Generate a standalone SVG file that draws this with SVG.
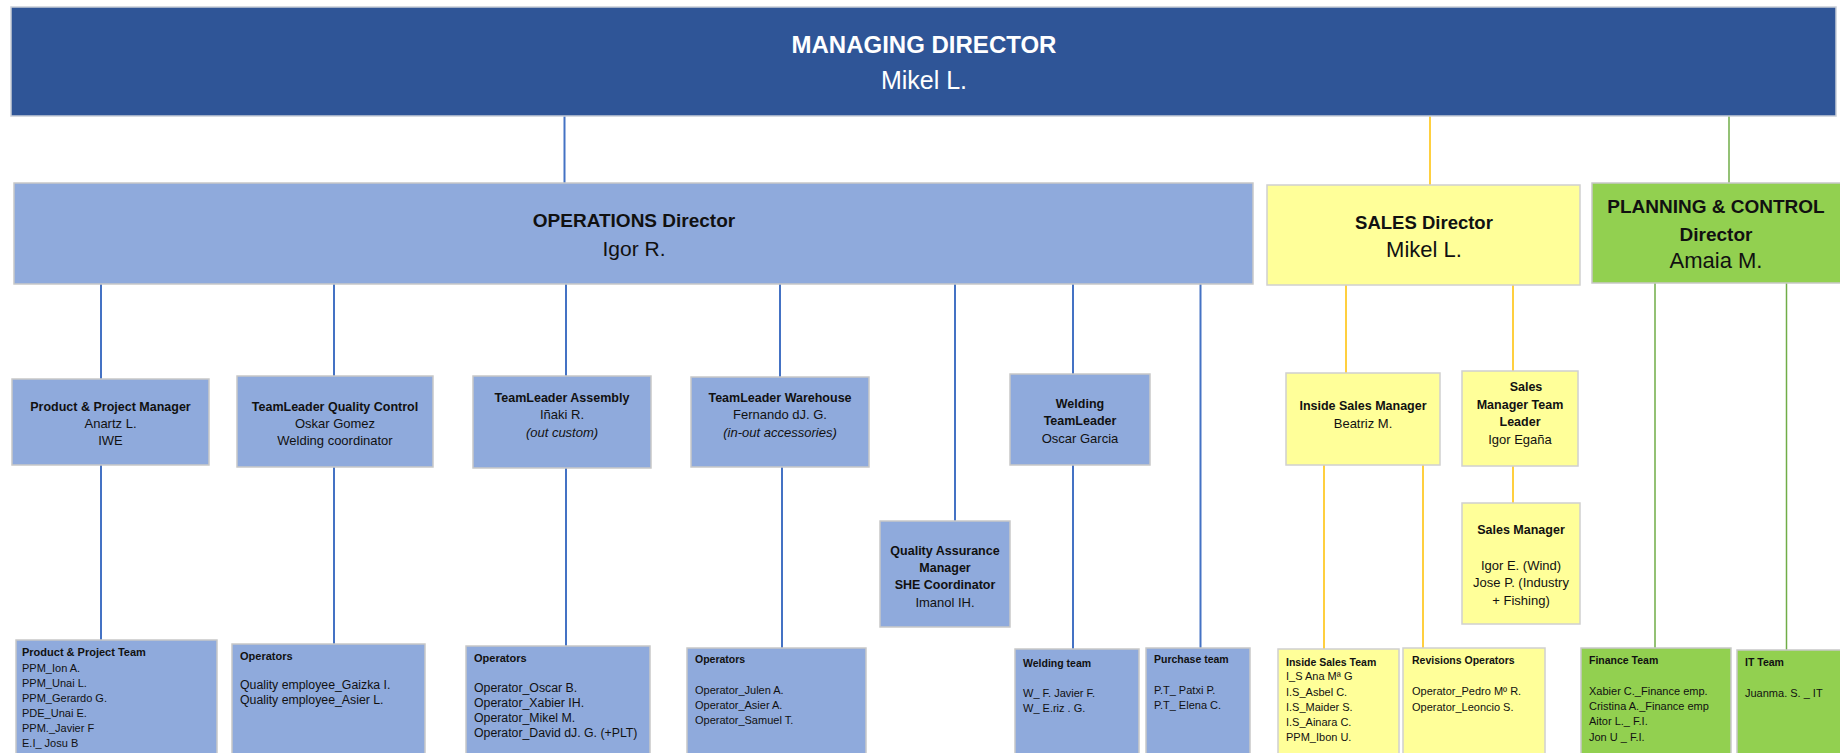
<svg xmlns="http://www.w3.org/2000/svg" width="1840" height="753" viewBox="0 0 1840 753">
<style>
text{font-family:"Liberation Sans",Arial,sans-serif;fill:#111}
.b{font-weight:bold}
.i{font-style:italic}
.c{text-anchor:middle}
.md{fill:#2F5597;stroke:#C9CED8;stroke-width:1.5}
.bl{fill:#8FAADC;stroke:#C8C8C8;stroke-width:1.5}
.ye{fill:#FFFF99;stroke:#D0D0D0;stroke-width:1.5}
.gr{fill:#92D050;stroke:#C8C8C8;stroke-width:1.5}
.l2 text{font-size:13px}
.l2 text.b{font-size:12.5px}
.l3 text{font-size:11px}
.l3 text.b{font-size:10.5px}
.l3.big text{font-size:12.3px}
.l3.big text.b{font-size:11px}
.cb{stroke:#4472C4;stroke-width:2;fill:none}
.cy{stroke:#FFC000;stroke-width:1.5;fill:none}
.cg{stroke:#70AD47;stroke-width:1.5;fill:none}
</style>
<rect width="1840" height="753" fill="#FFFFFF"/>
<g id="connectors">
<path class="cb" d="M564.5 116V183"/>
<path class="cy" d="M1430 116V185"/>
<path class="cg" d="M1729 116V183"/>
<path class="cb" d="M101 284V379M101 465V640"/>
<path class="cb" d="M334 284V376M334 467V644"/>
<path class="cb" d="M566 284V376M566 468V646"/>
<path class="cb" d="M780 284V377M782 467V648"/>
<path class="cb" d="M955 284V521"/>
<path class="cb" d="M1073 284V374M1073 465V649"/>
<path class="cb" d="M1200.5 284V648"/>
<path class="cy" d="M1346 285V373M1324 465V649M1423 465V648"/>
<path class="cy" d="M1513 285V371M1513 466V503"/>
<path class="cg" d="M1655 283V648M1786.5 283V650"/>
</g>
<g id="managing-director">
<rect class="md" x="11" y="7" width="1825" height="109"/>
<text class="b c" x="924" y="53" font-size="24" style="fill:#fff">MANAGING DIRECTOR</text>
<text class="c" x="924" y="89" font-size="25" style="fill:#fff">Mikel L.</text>
</g>
<g id="operations-director">
<rect class="bl" x="14" y="183" width="1239" height="101"/>
<text class="b c" x="634" y="227" font-size="19">OPERATIONS Director</text>
<text class="c" x="634" y="256" font-size="21">Igor R.</text>
</g>
<g id="sales-director">
<rect class="ye" x="1267" y="185" width="313" height="100"/>
<text class="b c" x="1424" y="229" font-size="18.5">SALES Director</text>
<text class="c" x="1424" y="257" font-size="22">Mikel L.</text>
</g>
<g id="planning-director">
<rect class="gr" x="1592" y="183" width="250" height="100"/>
<text class="b c" x="1716" y="213" font-size="19">PLANNING &amp; CONTROL</text>
<text class="b c" x="1716" y="241" font-size="19">Director</text>
<text class="c" x="1716" y="268" font-size="22">Amaia M.</text>
</g>
<g id="product-project-manager" class="l2">
<rect class="bl" x="12" y="379" width="197" height="86"/>
<text class="b c" x="110.5" y="411">Product &amp; Project Manager</text>
<text class="c" x="110.5" y="428">Anartz L.</text>
<text class="c" x="110.5" y="445">IWE</text>
</g>
<g id="teamleader-quality" class="l2">
<rect class="bl" x="237" y="376" width="196" height="91"/>
<text class="b c" x="335" y="411">TeamLeader Quality Control</text>
<text class="c" x="335" y="428">Oskar Gomez</text>
<text class="c" x="335" y="445">Welding coordinator</text>
</g>
<g id="teamleader-assembly" class="l2">
<rect class="bl" x="473" y="376" width="178" height="92"/>
<text class="b c" x="562" y="402">TeamLeader Assembly</text>
<text class="c" x="562" y="419">Iñaki R.</text>
<text class="c i" x="562" y="437">(out custom)</text>
</g>
<g id="teamleader-warehouse" class="l2">
<rect class="bl" x="691" y="377" width="178" height="90"/>
<text class="b c" x="780" y="402">TeamLeader Warehouse</text>
<text class="c" x="780" y="419">Fernando dJ. G.</text>
<text class="c i" x="780" y="437">(in-out accessories)</text>
</g>
<g id="quality-assurance" class="l2">
<rect class="bl" x="880" y="521" width="130" height="106"/>
<text class="b c" x="945" y="555">Quality Assurance</text>
<text class="b c" x="945" y="572">Manager</text>
<text class="b c" x="945" y="589">SHE Coordinator</text>
<text class="c" x="945" y="607">Imanol IH.</text>
</g>
<g id="welding-teamleader" class="l2">
<rect class="bl" x="1010" y="374" width="140" height="91"/>
<text class="b c" x="1080" y="408">Welding</text>
<text class="b c" x="1080" y="425">TeamLeader</text>
<text class="c" x="1080" y="443">Oscar Garcia</text>
</g>
<g id="inside-sales-manager" class="l2">
<rect class="ye" x="1286" y="373" width="154" height="92"/>
<text class="b c" x="1363" y="410">Inside Sales Manager</text>
<text class="c" x="1363" y="428">Beatriz M.</text>
</g>
<g id="sales-manager-team-leader" class="l2">
<rect class="ye" x="1462" y="371" width="116" height="95"/>
<text class="b c" x="1526" y="391">Sales</text>
<text class="b c" x="1520" y="409">Manager Team</text>
<text class="b c" x="1520" y="426">Leader</text>
<text class="c" x="1520" y="444">Igor Egaña</text>
</g>
<g id="sales-manager" class="l2">
<rect class="ye" x="1462" y="503" width="118" height="121"/>
<text class="b c" x="1521" y="534">Sales Manager</text>
<text class="c" x="1521" y="570">Igor E. (Wind)</text>
<text class="c" x="1521" y="587">Jose P. (Industry</text>
<text class="c" x="1521" y="605">+ Fishing)</text>
</g>
<g id="product-project-team" class="l3">
<rect class="bl" x="16" y="640" width="201" height="120"/>
<text class="b" x="22" y="656" style="font-size:11px">Product &amp; Project Team</text>
<text x="22" y="672">PPM_Ion A.</text>
<text x="22" y="687">PPM_Unai L.</text>
<text x="22" y="702">PPM_Gerardo G.</text>
<text x="22" y="717">PDE_Unai E.</text>
<text x="22" y="732">PPM._Javier F</text>
<text x="22" y="747">E.I_ Josu B</text>
</g>
<g id="quality-operators" class="l3 big">
<rect class="bl" x="232" y="644" width="193" height="120"/>
<text class="b" x="240" y="660">Operators</text>
<text x="240" y="689">Quality employee_Gaizka I.</text>
<text x="240" y="704">Quality employee_Asier L.</text>
</g>
<g id="assembly-operators" class="l3 big">
<rect class="bl" x="466" y="646" width="184" height="120"/>
<text class="b" x="474" y="662">Operators</text>
<text x="474" y="692">Operator_Oscar B.</text>
<text x="474" y="707">Operator_Xabier IH.</text>
<text x="474" y="722">Operator_Mikel M.</text>
<text x="474" y="737">Operator_David dJ. G. (+PLT)</text>
</g>
<g id="warehouse-operators" class="l3">
<rect class="bl" x="687" y="648" width="179" height="120"/>
<text class="b" x="695" y="663">Operators</text>
<text x="695" y="694">Operator_Julen A.</text>
<text x="695" y="709">Operator_Asier A.</text>
<text x="695" y="724">Operator_Samuel T.</text>
</g>
<g id="welding-team" class="l3">
<rect class="bl" x="1015" y="649" width="124" height="120"/>
<text class="b" x="1023" y="667">Welding team</text>
<text x="1023" y="697">W_  F. Javier F.</text>
<text x="1023" y="712">W_ E.riz . G.</text>
</g>
<g id="purchase-team" class="l3">
<rect class="bl" x="1146" y="648" width="104" height="120"/>
<text class="b" x="1154" y="663">Purchase team</text>
<text x="1154" y="694">P.T_ Patxi P.</text>
<text x="1154" y="709">P.T_ Elena C.</text>
</g>
<g id="inside-sales-team" class="l3">
<rect class="ye" x="1278" y="649" width="121" height="120"/>
<text class="b" x="1286" y="666">Inside Sales Team</text>
<text x="1286" y="680">I_S Ana Mª G</text>
<text x="1286" y="696">I.S_Asbel C.</text>
<text x="1286" y="711">I.S_Maider S.</text>
<text x="1286" y="726">I.S_Ainara C.</text>
<text x="1286" y="741">PPM_Ibon U.</text>
</g>
<g id="revisions-operators" class="l3">
<rect class="ye" x="1403" y="648" width="142" height="120"/>
<text class="b" x="1412" y="664">Revisions Operators</text>
<text x="1412" y="695">Operator_Pedro Mº R.</text>
<text x="1412" y="711">Operator_Leoncio S.</text>
</g>
<g id="finance-team" class="l3">
<rect class="gr" x="1581" y="648" width="150" height="120"/>
<text class="b" x="1589" y="664">Finance Team</text>
<text x="1589" y="695">Xabier C._Finance emp.</text>
<text x="1589" y="710">Cristina A._Finance emp</text>
<text x="1589" y="725">Aitor L._ F.I.</text>
<text x="1589" y="741">Jon U _ F.I.</text>
</g>
<g id="it-team" class="l3">
<rect class="gr" x="1737" y="650" width="110" height="120"/>
<text class="b" x="1745" y="666">IT Team</text>
<text x="1745" y="697">Juanma. S. _ IT</text>
</g>
</svg>
